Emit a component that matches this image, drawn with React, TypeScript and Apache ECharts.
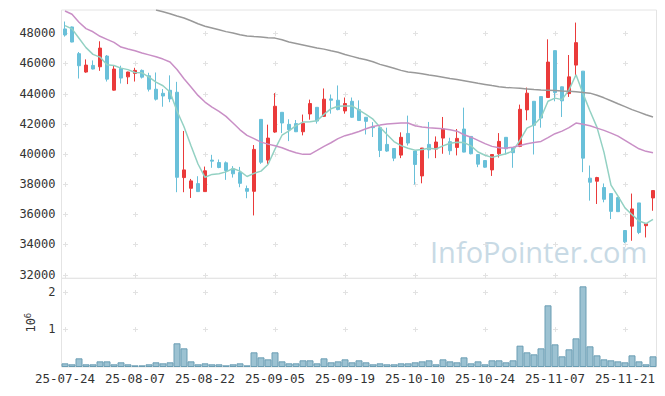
import React, { useEffect, useRef } from 'react';
import * as echarts from 'echarts';

const dates = [
  '25-07-24', '25-07-25', '25-07-28', '25-07-29', '25-07-30', '25-07-31', '25-08-01', '25-08-04', '25-08-05', '25-08-06',
  '25-08-07', '25-08-08', '25-08-11', '25-08-12', '25-08-13', '25-08-14', '25-08-18', '25-08-19', '25-08-20', '25-08-21',
  '25-08-22', '25-08-25', '25-08-26', '25-08-27', '25-08-28', '25-08-29', '25-09-01', '25-09-02', '25-09-03', '25-09-04',
  '25-09-05', '25-09-08', '25-09-09', '25-09-10', '25-09-11', '25-09-12', '25-09-15', '25-09-16', '25-09-17', '25-09-18',
  '25-09-19', '25-09-22', '25-09-23', '25-09-24', '25-09-25', '25-09-26', '25-09-29', '25-09-30', '25-10-01', '25-10-02',
  '25-10-10', '25-10-13', '25-10-14', '25-10-15', '25-10-16', '25-10-17', '25-10-20', '25-10-21', '25-10-22', '25-10-23',
  '25-10-24', '25-10-27', '25-10-28', '25-10-29', '25-10-30', '25-10-31', '25-11-03', '25-11-04', '25-11-05', '25-11-06',
  '25-11-07', '25-11-10', '25-11-11', '25-11-12', '25-11-13', '25-11-14', '25-11-17', '25-11-18', '25-11-19', '25-11-20',
  '25-11-21', '25-11-24', '25-11-25', '25-11-26', '25-11-27',
];

const opens = [
  48290, 48420, 46650, 45430, 45870, 45780, 46490, 44230, 45670, 45110,
  45340, 45540, 45180, 44290, 44020, 44220, 44090, 38430, 37720, 38030,
  37500, 39590, 39430, 39410, 39010, 38770, 37700, 37520, 42290, 39590,
  41450, 42760, 41960, 42010, 41470, 42650, 43090, 42490, 43650, 43560,
  42850, 43490, 42930, 42430, 41800, 41740, 40630, 40360, 39920, 41360,
  40190, 38540, 40630, 40320, 41050, 40810, 40430, 41650, 41160, 39960,
  39560, 38940, 40010, 41100, 40410, 40500, 42920, 43490, 43800, 43740,
  46850, 44450, 44000, 45890, 45490, 38390, 38190, 37770, 37370, 37100,
  34920, 35210, 36750, 35240, 37080,
];

const closes = [
  47890, 47420, 45850, 45890, 45630, 47020, 44960, 45630, 45030, 45430,
  45540, 45090, 44290, 43630, 43840, 43650, 38450, 38940, 38210, 37500,
  38880, 39520, 39100, 38900, 38680, 38050, 37520, 40300, 39450, 41050,
  43160, 42050, 41610, 41470, 42030, 43340, 42180, 43630, 43560, 42940,
  43340, 42430, 42220, 42160, 41740, 40230, 40190, 39720, 41100, 40720,
  39300, 40390, 40270, 40790, 41650, 40210, 41030, 40120, 40010, 39320,
  39120, 39960, 40830, 40340, 40080, 42960, 44030, 41900, 42380, 46090,
  44070, 43520, 45110, 47380, 39720, 38120, 38430, 36990, 36190, 36170,
  34170, 36350, 34790, 35370, 37570,
];

const lows = [
  47780, 47400, 45000, 45380, 45600, 45510, 44800, 44200, 44670, 44630,
  44800, 45000, 44140, 43540, 43130, 43430, 37460, 37460, 37080, 37480,
  37500, 39080, 39050, 38280, 38430, 37790, 37060, 35920, 39340, 39340,
  41400, 41380, 40850, 41450, 41230, 42270, 42010, 42450, 42670, 42890,
  42670, 42400, 42180, 41290, 41120, 39790, 40140, 39520, 39720, 40560,
  37970, 38050, 39700, 39720, 40010, 39940, 39900, 40100, 39970, 39120,
  39080, 38540, 39760, 39960, 39080, 40450, 42230, 39960, 41740, 43740,
  43490, 42450, 43780, 45230, 38790, 36900, 36680, 36790, 35680, 36170,
  34080, 34240, 34680, 34460, 36230,
];

const highs = [
  48780, 48450, 46760, 46270, 46200, 47470, 46560, 45890, 45850, 45450,
  45710, 45600, 45380, 45400, 44300, 45210, 44780, 41520, 38340, 38520,
  39160, 39940, 39630, 39500, 39190, 39140, 37900, 40590, 42300, 41940,
  44030, 42760, 42300, 42250, 42610, 43600, 43090, 44340, 43940, 44540,
  43740, 43740, 43550, 42430, 42110, 41830, 41740, 40360, 41430, 42540,
  40190, 40390, 42120, 41160, 42450, 41070, 41650, 43070, 41160, 39960,
  39560, 39960, 41380, 41100, 40450, 43270, 44400, 43490, 43800, 47600,
  46850, 44470, 46560, 48710, 45490, 39230, 38480, 38040, 37400, 37130,
  34920, 37370, 36750, 35400, 37570,
];

const volumes = [
  97000, 71000, 230000, 71000, 71000, 150000, 150000, 71000, 124000, 71000,
  44000, 44000, 71000, 124000, 97000, 124000, 628000, 495000, 150000, 71000,
  97000, 71000, 71000, 44000, 71000, 97000, 44000, 389000, 256000, 203000,
  389000, 150000, 97000, 97000, 177000, 177000, 97000, 230000, 124000, 150000,
  203000, 124000, 177000, 124000, 71000, 97000, 71000, 71000, 97000, 97000,
  124000, 150000, 177000, 71000, 203000, 150000, 124000, 256000, 97000, 150000,
  71000, 177000, 177000, 124000, 177000, 566000, 389000, 336000, 495000, 1636000,
  601000, 283000, 469000, 760000, 2140000, 548000, 309000, 203000, 177000, 150000,
  124000, 309000, 150000, 71000, 283000,
];

const ma5 = [
  48510, 48290, 47670, 47050, 46600, 46420, 45910, 45860, 45690, 45590,
  45400, 45380, 45090, 44760, 44520, 44110, 42850, 41800, 40540, 39330,
  38450, 38640, 38690, 38810, 39030, 38860, 38500, 38710, 38860, 39300,
  40320, 41240, 41530, 41880, 42110, 42130, 42200, 42620, 43000, 43160,
  43170, 43180, 42910, 42620, 42300, 41770, 41290, 40820, 40550, 40380,
  40250, 40290, 40380, 40330, 40530, 40710, 40780, 40750, 40530, 40130,
  39910, 39770, 39900, 40010, 40200, 40920, 41710, 41930, 42410, 43490,
  43700, 43600, 44250, 45250, 44000, 42850, 41760, 40100, 37930, 37200,
  36420, 35970, 35550, 35380, 35660,
];

const ma20 = [
  49480, 49260, 48730, 48310, 48100, 47800, 47600, 47400, 47090, 46960,
  46840, 46690, 46570, 46440, 46290, 46100, 45600, 44990, 44440, 43880,
  43440, 43110, 42820, 42490, 42050, 41600, 41230, 41010, 40780, 40650,
  40540, 40410, 40230, 40080, 39970, 39970, 40230, 40500, 40740, 41010,
  41210, 41340, 41490, 41670, 41820, 41910, 41980, 42020, 42050, 42050,
  41870, 41780, 41740, 41710, 41670, 41600, 41510, 41270, 41110, 40900,
  40680, 40500, 40410, 40380, 40450, 40560, 40680, 40760, 40830, 41080,
  41340, 41510, 41740, 42050, 41960, 41870, 41710, 41560, 41380, 41180,
  40900, 40610, 40340, 40170, 40080,
];

const ma60 = [
  null, null, null, null, null, null, null, null, null, null,
  null, null, null, 49550, 49430, 49300, 49150, 49010, 48830, 48630,
  48470, 48350, 48230, 48110, 48020, 47910, 47820, 47780, 47750, 47710,
  47680, 47570, 47420, 47320, 47220, 47120, 47020, 46950, 46840, 46740,
  46590, 46470, 46350, 46240, 46110, 45940, 45810, 45680, 45540, 45440,
  45380, 45310, 45230, 45160, 45080, 45000, 44930, 44850, 44770, 44680,
  44610, 44530, 44460, 44410, 44380, 44350, 44310, 44270, 44240, 44220,
  44200, 44170, 44150, 44120, 44080, 44030, 43890, 43720, 43530, 43330,
  43140, 42940, 42770, 42600, 42450,
];

const priceTicks = [32000, 34000, 36000, 38000, 40000, 42000, 44000, 46000, 48000];
const volumeTicks = [1000000, 2000000];
const labelIndexes = [0, 10, 20, 30, 40, 50, 60, 70, 80];

const UP = '#ea3a3a';
const DOWN = '#69c0d9';
const FONT = 'DejaVu Sans Mono';

export default function App() {
  const ref = useRef<HTMLDivElement>(null);

  useEffect(() => {
    const chart = echarts.init(ref.current!, null, { renderer: 'svg' });
    const candleData = dates.map((_, i) => [opens[i], closes[i], lows[i], highs[i]]);
    const cross0: number[][] = [];
    labelIndexes.forEach((x) => priceTicks.forEach((y) => cross0.push([x, y])));
    const cross1: number[][] = [];
    labelIndexes.forEach((x) => volumeTicks.forEach((y) => cross1.push([x, y])));

    const renderCross = (_params: any, api: any) => {
      const p = api.coord([api.value(0), api.value(1)]);
      const s = 2.5;
      const x = Math.round(p[0]) + 0.5;
      const y = Math.round(p[1]) + 0.5;
      const style = { stroke: '#e2e2e2', lineWidth: 1 };
      return {
        type: 'group',
        children: [
          { type: 'line', shape: { x1: x - s, y1: y, x2: x + s, y2: y }, style },
          { type: 'line', shape: { x1: x, y1: y - s, x2: x, y2: y + s }, style },
        ],
      };
    };

    const option: any = {
      animation: false,
      backgroundColor: '#ffffff',
      grid: [
        { left: 61.5, right: 8.5, top: 10, height: 268.3, show: true, borderColor: '#e4e4e4', borderWidth: 1 },
        { left: 61.5, right: 8.5, top: 278.3, height: 88.7, show: true, borderColor: '#e4e4e4', borderWidth: 1 },
      ],
      xAxis: [
        {
          type: 'category', data: dates, gridIndex: 0,
          axisLine: { show: false }, axisTick: { show: false }, axisLabel: { show: false }, splitLine: { show: false },
        },
        {
          type: 'category', data: dates, gridIndex: 1,
          axisLine: { show: false }, axisTick: { show: false }, splitLine: { show: false },
          axisLabel: { interval: 9, color: '#333', fontFamily: FONT, fontSize: 12.5, margin: 5 },
        },
      ],
      yAxis: [
        {
          type: 'value', gridIndex: 0, min: 31750, max: 49545, splitNumber: 9, minInterval: 2000, maxInterval: 2000,
          axisLine: { show: false }, axisTick: { show: false }, splitLine: { show: false },
          axisLabel: {
            color: '#333', fontFamily: FONT, fontSize: 12, margin: 6, showMinLabel: false, showMaxLabel: false,
            formatter: (v: number) => String(Math.round(v)),
          },
        },
        {
          type: 'value', gridIndex: 1, min: 0, max: 2353000, minInterval: 1000000, maxInterval: 1000000,
          axisLine: { show: false }, axisTick: { show: false }, splitLine: { show: false },
          axisLabel: {
            color: '#333', fontFamily: FONT, fontSize: 12, margin: 6, showMinLabel: false, showMaxLabel: false,
            formatter: (v: number) => String(Math.round(v / 1000000)),
          },
          name: '{a|10}{b|6}', nameLocation: 'middle', nameRotate: 90, nameGap: 19,
          nameTextStyle: {
            rich: {
              a: { fontFamily: FONT, fontSize: 12, color: '#333' },
              b: { fontFamily: FONT, fontSize: 9, color: '#333', verticalAlign: 'top', padding: [0, 0, 6, 0] },
            },
          },
        },
      ],
      graphic: [
        {
          type: 'text', left: 430, top: 237, z: 0, silent: true,
          style: { text: 'InfoPointer.com', fill: '#c8dae5', fontSize: 29, fontFamily: 'Open Sans' },
        },
      ],
      series: [
        { type: 'custom', xAxisIndex: 0, yAxisIndex: 0, data: cross0, renderItem: renderCross, silent: true, z: 1 },
        { type: 'custom', xAxisIndex: 1, yAxisIndex: 1, data: cross1, renderItem: renderCross, silent: true, z: 1 },
        {
          type: 'candlestick', xAxisIndex: 0, yAxisIndex: 0, data: candleData, barWidth: 4,
          itemStyle: { color: UP, color0: DOWN, borderColor: UP, borderColor0: DOWN, borderWidth: 1 },
          z: 3,
        },
        { type: 'line', xAxisIndex: 0, yAxisIndex: 0, data: ma5, symbol: 'none', lineStyle: { color: '#93d1c3', width: 1.5 }, z: 4 },
        { type: 'line', xAxisIndex: 0, yAxisIndex: 0, data: ma20, symbol: 'none', lineStyle: { color: '#c98fc6', width: 1.5 }, z: 4 },
        { type: 'line', xAxisIndex: 0, yAxisIndex: 0, data: ma60, symbol: 'none', lineStyle: { color: '#999999', width: 1.5 }, z: 4 },
        {
          type: 'bar', xAxisIndex: 1, yAxisIndex: 1, data: volumes, barCategoryGap: '0%',
          itemStyle: { color: '#9cc2d2', borderColor: '#6a9db3', borderWidth: 1 }, z: 3,
        },
      ],
    };
    chart.setOption(option);
    return () => chart.dispose();
  }, []);

  return <div ref={ref} style={{ position: 'fixed', left: 0, top: 0, width: 665, height: 396 }} />;
}
